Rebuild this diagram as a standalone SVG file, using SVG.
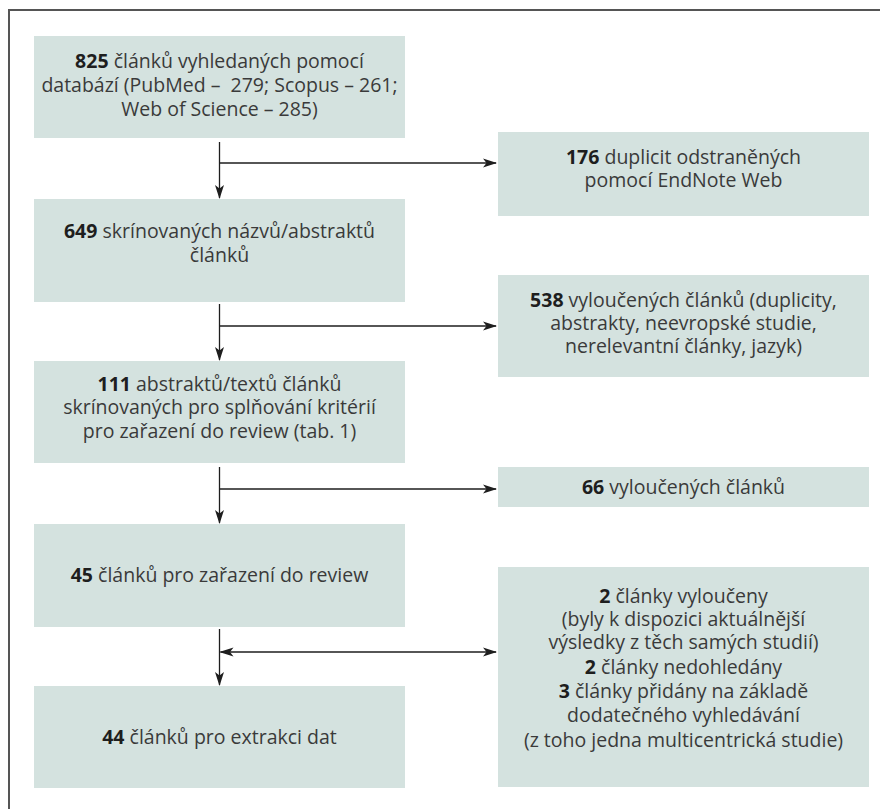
<svg xmlns="http://www.w3.org/2000/svg" width="880" height="809" viewBox="0 0 880 809">
<defs>
<style>
.box{fill:#d4e2df;}
.t{font-family:"Open Sans","Noto Sans","Liberation Sans",sans-serif;font-size:19.5px;fill:#3a3a3a;text-anchor:middle;}
.b{font-weight:bold;fill:#1e1e1e;}
.ln{stroke:#1e1e1e;stroke-width:1.3;fill:none;}
.frame{stroke:#555;stroke-width:2;fill:none;}
</style>
<marker id="ah" viewBox="0 0 14 10" refX="13" refY="5" markerWidth="14" markerHeight="10" markerUnits="userSpaceOnUse" orient="auto-start-reverse">
<path d="M0,0.5 L14,5 L0,9.5 L3.5,5 Z" fill="#1e1e1e"/>
</marker>
</defs>
<rect width="880" height="809" fill="#fff"/>
<path class="frame" d="M9,809 L9,10 L880,10"/>

<g id="n825">
<rect class="box" x="34" y="36" width="371" height="102"/>
<text class="t" x="219.5" y="68"><tspan class="b">825</tspan> článků vyhledaných pomocí</text>
<text class="t" x="219.5" y="92">databází (PubMed –&#160; 279; Scopus – 261;</text>
<text class="t" x="219.5" y="116">Web of Science – 285)</text>
</g>
<g id="n176">
<rect class="box" x="498" y="132" width="371" height="84"/>
<text class="t" x="683.5" y="164"><tspan class="b">176</tspan> duplicit odstraněných</text>
<text class="t" x="683.5" y="187">pomocí EndNote Web</text>
</g>
<g id="n649">
<rect class="box" x="34" y="199" width="371" height="103"/>
<text class="t" x="219.5" y="238"><tspan class="b">649</tspan> skrínovaných názvů/abstraktů</text>
<text class="t" x="219.5" y="262">článků</text>
</g>
<g id="n538">
<rect class="box" x="498" y="275" width="371" height="102"/>
<text class="t" x="683.5" y="307"><tspan class="b">538</tspan> vyloučených článků (duplicity,</text>
<text class="t" x="683.5" y="330">abstrakty, neevropské studie,</text>
<text class="t" x="683.5" y="353">nerelevantní články, jazyk)</text>
</g>
<g id="n111">
<rect class="box" x="34" y="361" width="371" height="102"/>
<text class="t" x="219.5" y="391"><tspan class="b">111</tspan> abstraktů/textů článků</text>
<text class="t" x="219.5" y="414">skrínovaných pro splňování kritérií</text>
<text class="t" x="219.5" y="438">pro zařazení do review (tab. 1)</text>
</g>
<g id="n66">
<rect class="box" x="498" y="467" width="371" height="40"/>
<text class="t" x="683.5" y="494"><tspan class="b">66</tspan> vyloučených článků</text>
</g>
<g id="n45">
<rect class="box" x="34" y="524" width="371" height="103"/>
<text class="t" x="219.5" y="582"><tspan class="b">45</tspan> článků pro zařazení do review</text>
</g>
<g id="n223">
<rect class="box" x="498" y="567" width="371" height="220"/>
<text class="t" x="683.5" y="603"><tspan class="b">2</tspan> články vyloučeny</text>
<text class="t" x="683.5" y="626">(byly k dispozici aktuálnější</text>
<text class="t" x="683.5" y="649">výsledky z těch samých studií)</text>
<text class="t" x="683.5" y="674"><tspan class="b">2</tspan> články nedohledány</text>
<text class="t" x="683.5" y="698"><tspan class="b">3</tspan> články přidány na základě</text>
<text class="t" x="683.5" y="722">dodatečného vyhledávání</text>
<text class="t" x="683.5" y="747">(z toho jedna multicentrická studie)</text>
</g>
<g id="n44">
<rect class="box" x="34" y="686" width="371" height="102"/>
<text class="t" x="219.5" y="744"><tspan class="b">44</tspan> článků pro extrakci dat</text>
</g>

<g id="connectors">
<path class="ln" d="M219.5,142 L219.5,198" marker-end="url(#ah)"/>
<path class="ln" d="M219.5,163 L496,163" marker-end="url(#ah)"/>
<path class="ln" d="M219.5,304 L219.5,360" marker-end="url(#ah)"/>
<path class="ln" d="M219.5,326 L496,326" marker-end="url(#ah)"/>
<path class="ln" d="M219.5,467 L219.5,523" marker-end="url(#ah)"/>
<path class="ln" d="M219.5,489 L496,489" marker-end="url(#ah)"/>
<path class="ln" d="M219.5,629 L219.5,685" marker-end="url(#ah)"/>
<path class="ln" d="M220.5,652 L496,652" marker-start="url(#ah)" marker-end="url(#ah)"/>
</g>
</svg>
